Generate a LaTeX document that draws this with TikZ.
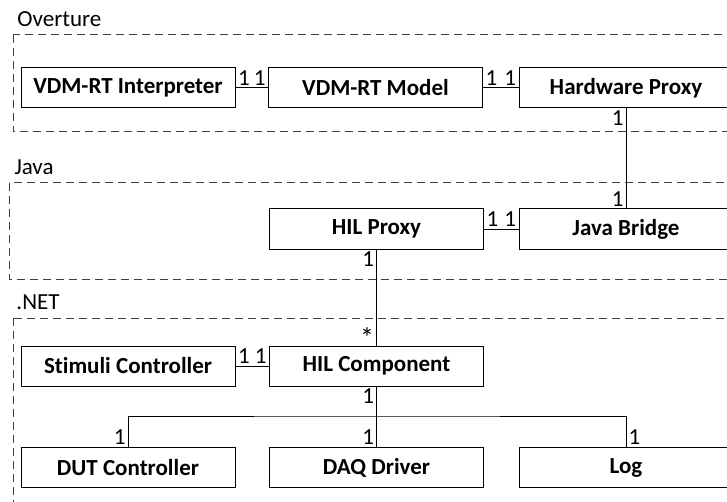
\documentclass[tikz,border=0pt]{standalone}
\usepackage{fontspec}
\setmainfont[Ligatures=NoCommon]{Carlito}
\usepackage{tikz}

\tikzset{
  cls/.style={draw, line width=0.5pt, font=\fontsize{11.5}{13}\selectfont\bfseries,
    minimum width=107pt, minimum height=20pt, inner sep=0pt},
  pkg/.style={draw=black!75, line width=0.5pt, dash pattern=on 4pt off 2.5pt},
  mult/.style={inner sep=1pt, font=\fontsize{11.5}{13}\selectfont},
}

\begin{document}
\begin{tikzpicture}[x=0.5pt, y=-0.5pt, line width=0.5pt,
    every node/.style={font=\fontsize{11.5}{13}\selectfont}]
  \useasboundingbox (0,0) rectangle (727,502);
  \clip (0,0) rectangle (727,502);

  % packages
  \draw[pkg] (13,35) rectangle (745,132);
  \draw[pkg] (9,183) rectangle (745,279);
  \draw[pkg] (13,318) rectangle (745,520);
  \node[anchor=west, inner sep=0pt] (lblOv) at (17,19) {Overture};
  \node[anchor=west, inner sep=0pt] (lblJava) at (14,167) {Java};
  \node[anchor=west, inner sep=0pt] (lblNet) at (16,302) {.NET};

  % Overture
  \node[cls] (interp) at (128,88) {VDM-RT Interpreter};
  \node[cls] (model) at (375.5,88) {VDM-RT Model};
  \node[cls] (hwproxy) at (626,88) {Hardware Proxy};

  % Java
  \node[cls] (hilproxy) at (376.5,229) {HIL Proxy};
  \node[cls] (bridge) at (626,229) {Java Bridge};

  % .NET
  \node[cls] (stimuli) at (128,366) {Stimuli Controller};
  \node[cls] (hilcomp) at (376.5,366) {HIL Component};
  \node[cls] (dut) at (128,467.5) {DUT Controller};
  \node[cls] (daq) at (376.5,467.5) {DAQ Driver};
  \node[cls] (log) at (626,467.5) {Log};
  \coordinate (bus) at (376.5,416);

  % associations
  \draw (interp) -- (model)
    node[mult, pos=0, anchor=south west] (m1) {1}
    node[mult, pos=1, anchor=south east] (m2) {1};
  \draw (model) -- (hwproxy)
    node[mult, pos=0, anchor=south west] (m3) {1}
    node[mult, pos=1, anchor=south east] (m4) {1};
  \draw (hwproxy) -- (bridge)
    node[mult, pos=0, anchor=north east] (m5) {1}
    node[mult, pos=1, anchor=south east] (m6) {1};
  \draw (hilproxy) -- (bridge)
    node[mult, pos=0, anchor=south west] (m7) {1}
    node[mult, pos=1, anchor=south east] (m8) {1};
  \draw (hilproxy) -- (hilcomp)
    node[mult, pos=0, anchor=north east] (m9) {1}
    node[mult, pos=1, anchor=south east, yshift=-2pt] (m10) {\fontsize{14}{14}\selectfont *};
  \draw (stimuli) -- (hilcomp)
    node[mult, pos=0, anchor=south west] (m11) {1}
    node[mult, pos=1, anchor=south east] (m12) {1};
  \draw (hilcomp) -- (daq)
    node[mult, pos=0, anchor=north east] (m13) {1}
    node[mult, pos=1, anchor=south east] (m14) {1};
  \draw (dut.north) |- (bus) -| (log.north);
  \node[mult, anchor=south east] (m15) at (dut.north) {1};
  \node[mult, anchor=south west] (m16) at (log.north) {1};
\end{tikzpicture}
\end{document}
